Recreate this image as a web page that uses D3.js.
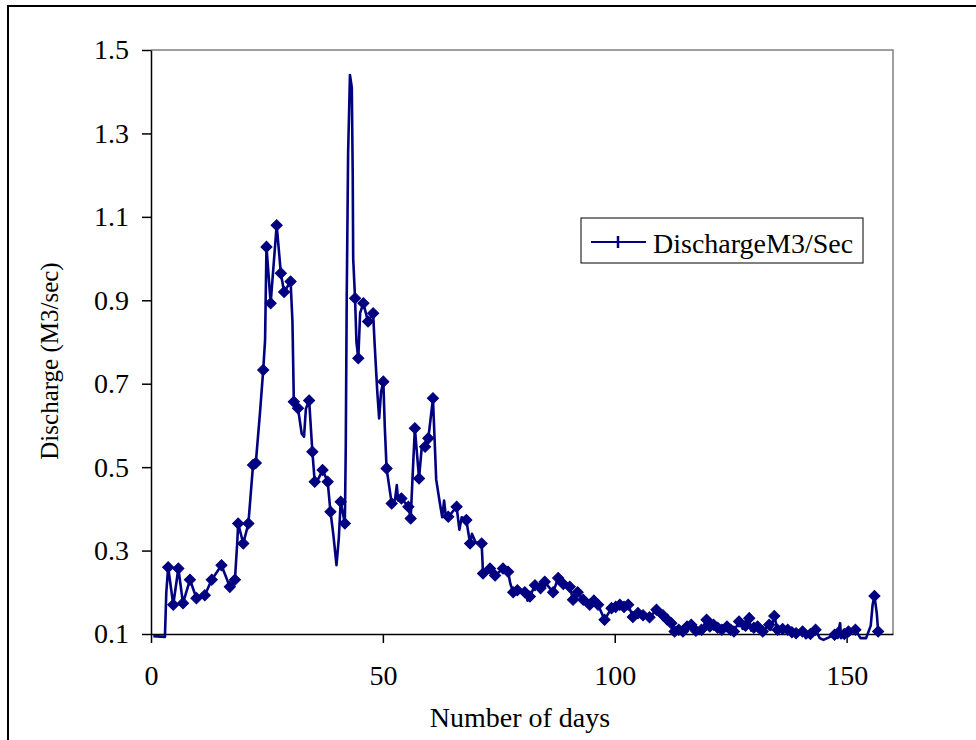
<!DOCTYPE html>
<html>
<head>
<meta charset="utf-8">
<script src="https://cdn.jsdelivr.net/npm/d3@7"></script>
<style>
  body { margin: 0; background: #fff; }
  text { font-family: "Liberation Serif", "Times New Roman", serif; fill: #000; }
</style>
</head>
<body>
<div id="chart"></div>
<script>

// Discharge over days chart

// Set dimensions and margins for plot
const width = 976;
const height = 740;
const margin = {left: 151, right: 83, top: 50, bottom: 106};

// Data (in line order, the line doubles back in places)
const days = [
  0.5, 3.0, 3.3, 3.7, 4.8, 5.9, 6.9, 8.4, 9.8, 11.6, 13.1, 15.2, 17.0, 18.1,
  18.6, 18.8, 19.9, 21.0, 22.0, 22.6, 23.5, 24.2, 24.6, 24.9, 25.8, 27.1, 28.0,
  28.7, 30.1, 30.5, 30.8, 31.7, 32.5, 33.0, 33.4, 34.1, 34.8, 35.3, 36.0, 37.0,
  38.1, 38.7, 39.3, 40.0, 40.5, 40.9, 41.8, 42.0, 42.2, 42.5, 42.9, 43.3, 43.5,
  43.6, 44.0, 44.3, 44.7, 45.1, 45.8, 46.8, 47.9, 48.2, 48.8, 49.2, 49.6, 50.1,
  50.4, 50.8, 51.9, 52.6, 53.0, 53.3, 54.0, 55.5, 56.0, 56.5, 56.9, 57.8, 58.4,
  59.1, 59.8, 60.8, 61.5, 62.3, 62.8, 63.2, 63.6, 64.1, 64.8, 65.9, 66.5, 67.0,
  68.0, 68.8, 69.2, 70.0, 71.3, 71.6, 73.1, 74.2, 75.9, 77.0, 77.5, 78.1, 79.0,
  80.6, 81.2, 81.7, 82.8, 84.0, 84.9, 86.7, 87.8, 88.9, 90.3, 91.0, 92.0, 93.2,
  94.6, 95.5, 96.4, 97.8, 99.3, 100.2, 101.1, 102.0, 102.9, 103.9, 105.0, 106.1,
  107.5, 109.0, 110.4, 111.3, 112.2, 112.9, 113.8, 114.7, 115.6, 116.5, 117.5,
  118.7, 119.8, 120.5, 121.3, 122.2, 123.1, 124.2, 125.0, 125.7, 126.8, 127.6,
  128.2, 129.0, 129.4, 130.0, 130.8, 131.9, 133.3, 133.6, 134.4, 135.1, 136.2,
  137.3, 138.2, 139.1, 140.5, 141.2, 142.2, 143.3, 144.2, 145.0, 147.4, 148.1,
  148.6, 148.8, 149.5, 150.4, 151.9, 153.0, 154.2, 155.2, 155.6, 156.0, 156.5,
  156.8
];
const discharge = [
  0.095, 0.093, 0.2, 0.26, 0.17, 0.257, 0.174, 0.23, 0.186, 0.193, 0.23, 0.265, 0.213, 0.23,
  0.32, 0.365, 0.317, 0.365, 0.505, 0.51, 0.63, 0.733, 0.805, 1.028, 0.893, 1.08, 0.965,
  0.92, 0.945, 0.85, 0.657, 0.641, 0.58, 0.573, 0.64, 0.66, 0.537, 0.465, 0.47, 0.493,
  0.465, 0.393, 0.34, 0.265, 0.33, 0.417, 0.365, 0.55, 0.9, 1.25, 1.44, 1.41, 1.2,
  1.0, 0.905, 0.8, 0.761, 0.87, 0.893, 0.849, 0.869, 0.8, 0.68, 0.617, 0.68, 0.705,
  0.6, 0.497, 0.413, 0.42, 0.457, 0.42, 0.425, 0.405, 0.377, 0.5, 0.593, 0.473, 0.55,
  0.549, 0.569, 0.665, 0.47, 0.413, 0.38, 0.42, 0.38, 0.381, 0.39, 0.405, 0.35, 0.38,
  0.373, 0.317, 0.34, 0.32, 0.317, 0.245, 0.257, 0.24, 0.257, 0.249, 0.22, 0.2, 0.205,
  0.2, 0.18, 0.19, 0.217, 0.21, 0.225, 0.2, 0.234, 0.22, 0.213, 0.182, 0.2, 0.182,
  0.17, 0.18, 0.17, 0.134, 0.162, 0.165, 0.17, 0.165, 0.17, 0.141, 0.15, 0.145,
  0.14, 0.158, 0.145, 0.135, 0.126, 0.106, 0.11, 0.106, 0.118, 0.122, 0.108,
  0.11, 0.134, 0.118, 0.122, 0.115, 0.11, 0.118, 0.11, 0.106, 0.13, 0.112,
  0.12, 0.138, 0.108, 0.115, 0.118, 0.106, 0.122, 0.11, 0.143, 0.11, 0.112,
  0.11, 0.104, 0.102, 0.106, 0.09, 0.1, 0.11, 0.09, 0.086, 0.098, 0.102,
  0.126, 0.09, 0.1, 0.106, 0.11, 0.09, 0.09, 0.12, 0.17, 0.191, 0.15,
  0.106
];
// 1 = point drawn with a diamond marker
const marked = [
  0, 0, 0, 1, 1, 1, 1, 1, 1, 1, 1, 1, 1, 1,
  0, 1, 1, 1, 1, 1, 0, 1, 0, 1, 1, 1, 1,
  1, 1, 0, 1, 1, 0, 0, 0, 1, 1, 1, 0, 1,
  1, 1, 0, 0, 0, 1, 1, 0, 0, 0, 0, 0, 0,
  0, 1, 0, 1, 0, 1, 1, 1, 0, 0, 0, 0, 1,
  0, 1, 1, 0, 0, 0, 1, 1, 1, 0, 1, 1, 0,
  1, 1, 1, 0, 0, 0, 0, 0, 1, 0, 1, 0, 0,
  1, 1, 0, 0, 1, 1, 1, 1, 1, 1, 0, 1, 1,
  1, 0, 1, 1, 1, 1, 1, 1, 1, 1, 1, 1, 1,
  1, 1, 1, 1, 1, 1, 1, 1, 1, 1, 1, 1,
  1, 1, 1, 1, 1, 1, 1, 1, 1, 1, 1,
  1, 1, 1, 1, 1, 1, 1, 1, 1, 1, 0,
  1, 1, 0, 1, 1, 1, 1, 0, 1, 1, 1,
  1, 1, 1, 1, 0, 1, 1, 0, 0, 1, 1,
  0, 0, 1, 1, 1, 0, 0, 0, 0, 1, 0,
  1
];

const xTicks = [0, 50, 100, 150];
const yTicks = [0.1, 0.3, 0.5, 0.7, 0.9, 1.1, 1.3, 1.5];
const seriesName = "DischargeM3/Sec";
const xTitle = "Number of days";
const yTitle = "Discharge (M3/sec)";

const lineColor = "#000080";

// build rows for d3
const data = days.map((d, i) => ({day: d, q: discharge[i], mark: marked[i]}));

const svg = d3.select("#chart")
  .append("svg")
  .attr("width", width)
  .attr("height", height)
  .attr("viewBox", [0, 0, width, height]);

// outer frame of the chart area
svg.append("rect")
  .attr("x", 8).attr("y", 6)
  .attr("width", width).attr("height", height)
  .attr("fill", "none")
  .attr("stroke", "#000")
  .attr("stroke-width", 2);

// scales
const xScale = d3.scaleLinear()
  .domain([0, 160])
  .range([margin.left, width - margin.right]);

const yScale = d3.scaleLinear()
  .domain([0.1, 1.5])
  .range([height - margin.bottom, margin.top]);

// plot area border (top + right)
svg.append("path")
  .attr("d", `M${margin.left},${margin.top}H${width - margin.right}V${height - margin.bottom}`)
  .attr("fill", "none")
  .attr("stroke", "#808080")
  .attr("stroke-width", 1.5);

// y axis
const yAxis = svg.append("g")
  .attr("transform", `translate(${margin.left},0)`)
  .call(d3.axisLeft(yScale)
    .tickValues(yTicks)
    .tickFormat(d3.format(".1f"))
    .tickSize(9)
    .tickSizeOuter(0)
    .tickPadding(13));
yAxis.selectAll("text").attr("font-size", "28px").attr("font-family", "Liberation Serif");
yAxis.selectAll("line, path").attr("stroke", "#000").attr("stroke-width", 1.5);

// x axis
const xAxis = svg.append("g")
  .attr("transform", `translate(0,${height - margin.bottom})`)
  .call(d3.axisBottom(xScale)
    .tickValues(xTicks)
    .tickSize(9)
    .tickSizeOuter(0)
    .tickPadding(22));
xAxis.selectAll("text").attr("font-size", "28px").attr("font-family", "Liberation Serif");
xAxis.selectAll("line, path").attr("stroke", "#000").attr("stroke-width", 1.5);

// axis titles
svg.append("text")
  .attr("x", (margin.left + width - margin.right) / 2 - 2)
  .attr("y", 727)
  .attr("text-anchor", "middle")
  .attr("font-size", "28px")
  .text(xTitle);

svg.append("text")
  .attr("transform", `translate(58,${361}) rotate(-90)`)
  .attr("text-anchor", "middle")
  .attr("font-size", "25px")
  .text(yTitle);

// the line
const line = d3.line()
  .x(d => xScale(d.day))
  .y(d => yScale(d.q));

svg.append("path")
  .datum(data)
  .attr("d", line)
  .attr("fill", "none")
  .attr("stroke", lineColor)
  .attr("stroke-width", 2.6)
  .attr("stroke-linejoin", "round");

// diamond markers
const diamond = d3.symbol().type(d3.symbolSquare).size(62);
svg.selectAll(".marker")
  .data(data.filter(d => d.mark === 1))
  .enter()
  .append("path")
    .attr("class", "marker")
    .attr("d", diamond)
    .attr("transform", d => `translate(${xScale(d.day)},${yScale(d.q)}) rotate(45)`)
    .attr("fill", lineColor)
    .attr("stroke", lineColor)
    .attr("stroke-width", 1);

// legend
const legend = svg.append("g").attr("transform", "translate(581,218)");
legend.append("rect")
  .attr("width", 282).attr("height", 45)
  .attr("fill", "#fff")
  .attr("stroke", "#000")
  .attr("stroke-width", 1);
legend.append("line")
  .attr("x1", 10).attr("x2", 65)
  .attr("y1", 24).attr("y2", 24)
  .attr("stroke", lineColor).attr("stroke-width", 2.2);
legend.append("line")
  .attr("x1", 37).attr("x2", 37)
  .attr("y1", 18).attr("y2", 30)
  .attr("stroke", lineColor).attr("stroke-width", 2.5);
legend.append("text")
  .attr("x", 72).attr("y", 35)
  .attr("font-size", "28px")
  .text(seriesName);

</script>
</body>
</html>
